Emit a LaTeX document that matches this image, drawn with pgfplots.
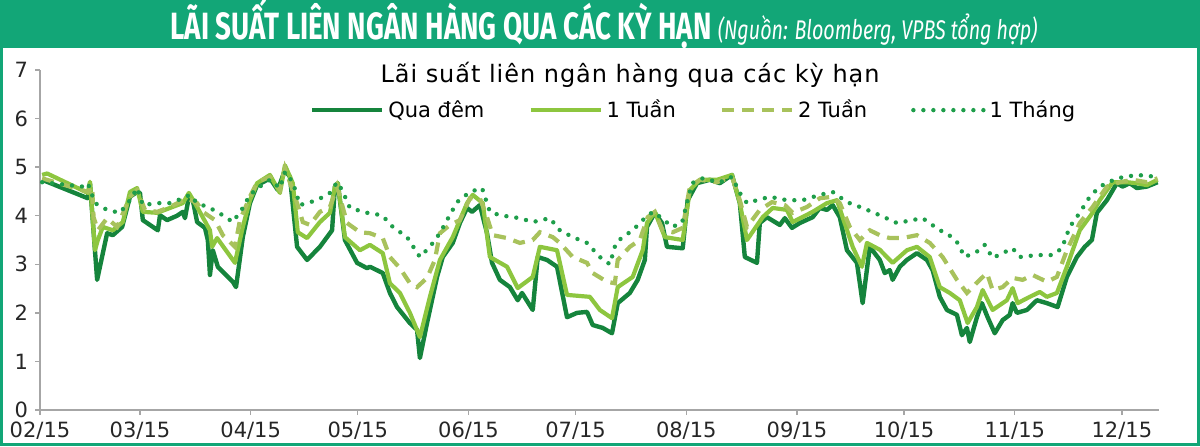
\documentclass[border=0pt]{standalone}
\usepackage{fontspec}
\setmainfont{DejaVu Sans}
\newfontfamily\bannerfont[FakeStretch=0.73]{Fira Sans}
\newfontfamily\titlefont[LetterSpace=4]{DejaVu Sans}
\usepackage{pgfplots}
\pgfplotsset{compat=1.18}
\definecolor{banner}{HTML}{12A677}
\definecolor{cON}{HTML}{15843C}
\definecolor{cW1}{HTML}{8DC63F}
\definecolor{cW2}{HTML}{A8C25C}
\definecolor{cM1}{HTML}{1E9E4A}
\begin{document}
\begin{tikzpicture}
\useasboundingbox (0,0) rectangle (600pt,223pt);
\fill[banner] (0,199pt) rectangle (600pt,223pt);
\draw[banner, line width=1.5pt] (0.75pt,0.75pt) rectangle (599.25pt,222pt);
\node[text=white, anchor=base] at (302pt,203.5pt) {{\bannerfont\bfseries\fontsize{19}{19}\selectfont LÃI SUẤT LIÊN NGÂN HÀNG QUA CÁC KỲ HẠN} {\bannerfont\itshape\fontsize{13.5}{13.5}\selectfont (Nguồn: Bloomberg, VPBS tổng hợp)}};
\begin{axis}[
  at={(20pt,18pt)}, anchor=south west,
  scale only axis, width=559.5pt, height=170pt,
  xmin=0, xmax=313.4, ymin=0, ymax=7,
  axis lines=left,
  axis line style={-, draw=gray!70, line width=0.7pt},
  tick style={draw=gray!70, line width=0.7pt},
  tick align=outside, major tick length=2.5pt,
  xtick={0,28,59,89,120,150,181,212,242,273,303},
  xticklabels={02/15,03/15,04/15,05/15,06/15,07/15,08/15,09/15,10/15,11/15,12/15},
  ytick={0,1,2,3,4,5,6,7},
  /pgf/number format/assume math mode=true,
  tick label style={font=\fontsize{10.5}{10.5}\selectfont, text=black!85},
  legend columns=4,
  legend style={draw=none, fill=none, at={(0.585,0.882)}, anchor=center,
    font=\fontsize{10.5}{10.5}\selectfont,
    /tikz/every even column/.append style={column sep=20pt}},
  legend image code/.code={\draw[#1] (0pt,0pt) -- (35pt,0pt);},
  clip=false,
]
\addplot[cON, line width=2.2pt, line join=round] table {
0.6 4.74
13.4 4.36
14.0 4.67
16.0 2.68
18.8 3.64
20.4 3.60
23.0 3.77
25.2 4.39
27.2 4.49
28.0 4.47
28.8 3.91
33.0 3.70
33.6 4.01
35.6 3.91
38.4 4.00
40.0 4.08
40.6 3.95
41.7 4.39
42.8 4.32
44.0 3.87
46.2 3.75
47.0 3.50
47.6 2.78
48.4 3.29
49.8 2.95
54.0 2.64
54.9 2.53
56.8 3.56
58.8 4.26
60.8 4.63
62.4 4.69
64.4 4.77
66.6 4.53
68.6 4.94
70.0 4.80
72.0 3.36
74.8 3.09
78.4 3.36
81.8 3.70
82.6 4.60
83.4 4.67
85.4 3.50
88.8 3.03
91.6 2.92
92.4 2.95
96.0 2.82
98.0 2.41
100.0 2.12
103.6 1.79
105.6 1.65
106.4 1.07
108.4 1.79
111.2 2.74
112.8 3.15
115.6 3.44
117.6 3.85
119.6 4.16
121.0 4.08
123.2 4.22
125.2 3.64
126.6 3.03
128.8 2.68
131.6 2.53
133.8 2.26
135.0 2.41
138.0 2.06
139.4 3.15
142.0 3.09
144.8 2.95
147.6 1.91
150.4 2.00
153.2 2.02
154.8 1.75
157.6 1.69
160.2 1.58
161.8 2.20
165.2 2.41
167.4 2.68
169.4 3.09
170.0 3.77
172.2 4.06
174.2 3.85
175.6 3.36
180.0 3.33
181.4 4.32
184.0 4.67
187.6 4.74
190.4 4.67
193.8 4.84
196.0 4.26
197.4 3.15
200.8 3.03
201.6 3.85
203.6 3.97
207.2 3.81
208.6 3.95
210.6 3.75
212.8 3.85
216.4 3.97
218.4 4.16
220.4 4.12
222.0 4.22
224.0 3.97
226.0 3.29
228.8 3.03
230.4 2.20
232.4 3.36
235.2 3.09
236.6 2.82
238.0 2.88
238.8 2.68
240.8 2.95
242.8 3.09
245.6 3.23
248.4 3.09
250.0 2.88
252.0 2.33
254.0 2.06
256.8 1.96
258.2 1.54
259.6 1.69
260.4 1.40
262.4 1.91
263.8 2.20
265.4 1.91
267.4 1.58
269.6 1.85
271.6 1.96
272.4 2.20
273.6 2.00
276.4 2.06
279.2 2.26
282.0 2.20
285.0 2.12
287.6 2.74
290.4 3.15
292.6 3.36
294.6 3.50
296.0 4.06
298.8 4.32
301.6 4.67
303.2 4.60
305.2 4.67
307.2 4.57
310.0 4.60
313.0 4.69
};
\addlegendentry{Qua đêm}
\addplot[cW1, line width=2.1pt, line join=round] table {
0.6 4.84
2.0 4.87
13.4 4.47
14.0 4.70
15.4 3.29
16.2 3.50
17.6 3.77
20.4 3.70
23.2 3.87
25.2 4.49
27.2 4.57
28.8 4.08
32.8 4.06
36.4 4.16
40.0 4.26
41.7 4.47
43.4 4.26
47.6 3.70
48.2 3.36
49.6 3.54
54.6 3.03
56.8 3.77
58.8 4.32
60.8 4.67
64.4 4.84
67.2 4.47
68.6 5.04
70.8 4.67
72.2 3.66
74.8 3.54
78.4 3.87
81.2 4.06
82.6 4.60
83.4 4.67
85.4 3.56
89.6 3.29
92.4 3.40
96.0 3.23
98.0 2.61
100.8 2.41
103.6 2.00
106.4 1.50
109.2 2.33
112.0 3.09
115.6 3.56
119.6 4.26
121.2 4.43
124.0 4.26
126.0 3.15
130.8 2.95
133.8 2.51
138.0 2.74
140.0 3.36
144.8 3.29
147.6 2.37
154.0 2.33
156.8 2.06
160.2 1.89
161.8 2.53
166.0 2.74
168.8 3.29
170.0 3.85
172.2 4.08
175.0 3.56
180.0 3.50
182.0 4.53
184.8 4.74
189.6 4.74
193.8 4.84
196.0 4.26
198.0 3.50
202.4 3.97
205.2 4.16
209.2 4.12
210.8 3.87
216.4 4.08
220.4 4.26
223.2 4.32
224.8 3.97
227.6 3.36
230.2 2.95
231.6 3.44
235.2 3.30
238.8 3.03
242.8 3.29
245.6 3.36
249.2 3.15
252.0 2.53
254.8 2.41
257.6 2.26
259.8 1.79
262.4 2.12
264.0 2.47
266.8 2.06
270.8 2.26
272.4 2.51
273.8 2.20
277.2 2.33
280.0 2.43
282.0 2.33
284.8 2.41
287.6 2.95
291.2 3.70
294.8 4.06
296.8 4.32
300.4 4.69
304.4 4.69
307.2 4.67
310.0 4.63
313.0 4.74
};
\addlegendentry{1 Tuần}
\addplot[cW2, line width=2.1pt, dash pattern=on 6pt off 4pt] table {
0.6 4.77
13.4 4.49
14.6 4.60
15.0 3.97
16.2 3.70
18.8 3.95
21.6 3.77
25.2 4.39
27.2 4.53
29.4 4.12
32.8 4.08
36.4 4.18
41.2 4.36
44.0 4.26
45.6 4.08
49.0 3.91
51.2 3.60
54.6 3.36
56.0 3.91
58.8 4.39
60.8 4.69
64.4 4.80
67.2 4.53
68.6 4.98
72.0 4.26
73.6 3.87
75.6 3.81
78.4 4.08
81.2 4.18
83.2 4.60
86.0 3.85
89.6 3.66
92.4 3.64
96.0 3.54
98.0 3.15
100.8 2.92
103.6 2.61
105.6 2.53
108.4 2.72
110.6 3.09
112.0 3.64
114.8 3.81
117.6 3.91
120.4 4.36
123.2 4.36
125.2 3.97
126.8 3.60
130.8 3.54
134.4 3.44
138.0 3.50
140.0 3.66
143.6 3.56
145.6 3.44
149.2 3.15
153.2 3.03
154.8 2.82
158.8 2.64
161.0 2.61
161.8 3.09
165.2 3.36
168.0 3.50
170.2 3.97
172.2 4.08
174.4 3.70
177.2 3.66
180.0 3.75
182.0 4.60
184.8 4.74
189.6 4.69
193.8 4.80
196.0 4.32
198.0 3.77
201.6 4.12
205.0 4.28
208.6 4.22
210.8 4.06
214.8 4.18
218.4 4.36
222.0 4.39
224.0 4.26
226.8 3.77
229.6 3.50
232.4 3.70
235.2 3.60
238.0 3.54
241.6 3.54
245.6 3.60
249.2 3.44
252.8 3.15
256.8 2.68
259.6 2.41
263.2 2.68
265.2 2.82
266.8 2.47
269.6 2.53
272.4 2.72
275.2 2.68
278.0 2.78
282.0 2.64
284.8 2.74
287.6 3.29
291.2 3.85
294.8 4.18
298.8 4.60
302.4 4.69
306.0 4.74
310.0 4.69
313.0 4.77
};
\addlegendentry{2 Tuần}
\addplot[cM1, line width=2.2pt, line cap=round, dash pattern=on 0pt off 5pt] table {
0.6 4.69
12.0 4.60
13.4 4.67
15.4 4.26
18.8 4.12
22.4 4.06
25.2 4.32
27.2 4.57
28.8 4.22
32.8 4.26
36.4 4.26
40.0 4.36
42.0 4.43
44.0 4.26
47.6 4.16
51.2 4.01
54.0 3.87
56.8 4.16
58.8 4.43
61.6 4.60
64.4 4.74
67.2 4.57
68.6 4.90
70.8 4.69
72.8 4.22
77.6 4.32
81.2 4.47
83.2 4.69
84.6 4.53
86.8 4.16
91.6 4.06
95.8 4.01
98.8 3.77
102.8 3.56
106.4 3.15
109.2 3.36
112.0 3.64
114.0 3.91
116.8 4.28
120.4 4.49
123.8 4.57
126.0 4.08
128.8 4.01
134.4 3.95
138.0 3.87
142.8 3.95
145.6 3.70
149.2 3.56
153.2 3.44
156.8 3.15
159.6 3.00
161.3 3.44
163.2 3.56
166.0 3.70
168.8 3.91
171.6 4.08
174.2 3.95
177.0 3.77
179.8 3.85
181.2 4.26
182.6 4.67
185.6 4.77
190.4 4.69
193.8 4.80
196.0 4.47
198.0 4.26
200.8 4.32
204.4 4.39
209.2 4.32
213.6 4.32
218.4 4.43
222.0 4.49
226.0 4.28
230.4 4.16
235.2 4.01
240.0 3.85
247.2 3.95
252.0 3.70
254.0 3.64
256.8 3.46
259.0 3.15
263.2 3.29
264.6 3.40
266.8 3.13
272.4 3.33
274.4 3.15
279.2 3.19
283.6 3.19
286.2 3.33
288.4 3.77
291.2 4.06
294.0 4.39
296.8 4.60
301.6 4.77
307.2 4.84
313.0 4.80
};
\addlegendentry{1 Tháng}
\end{axis}
\node at (315pt,185.5pt) {\titlefont\fontsize{12}{12}\selectfont Lãi suất liên ngân hàng qua các kỳ hạn};
\end{tikzpicture}
\end{document}
